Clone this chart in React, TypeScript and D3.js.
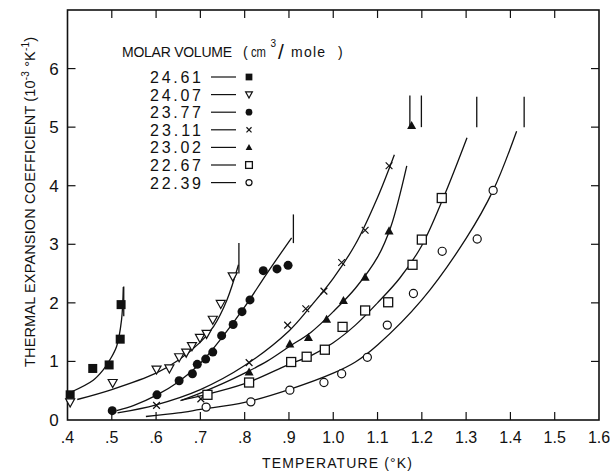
import React from "react";
import * as d3 from "d3";

// molar volumes (cm3/mole) and their plotting symbols
const volumes = ["24.61", "24.07", "23.77", "23.11", "23.02", "22.67", "22.39"];
const symbols = ["squareFilled", "triangleDown", "circleFilled", "cross", "triangleFilled", "square", "circle"];

// measured points [T (K), alpha (1e-3/K)]
const pts2461 = [[0.406, 0.43], [0.457, 0.88], [0.494, 0.94], [0.519, 1.38], [0.521, 1.97]];
const pts2407 = [[0.406, 0.3], [0.502, 0.63], [0.601, 0.86], [0.63, 0.88], [0.652, 1.07], [0.668, 1.15], [0.681, 1.26], [0.699, 1.4], [0.714, 1.47], [0.728, 1.71], [0.746, 1.98], [0.773, 2.45]];
const pts2377 = [[0.501, 0.16], [0.602, 0.43], [0.652, 0.67], [0.682, 0.79], [0.693, 0.95], [0.712, 1.04], [0.728, 1.16], [0.748, 1.44], [0.774, 1.63], [0.794, 1.85], [0.812, 2.05], [0.842, 2.55], [0.873, 2.58], [0.898, 2.64]];
const pts2311 = [[0.601, 0.25], [0.701, 0.36], [0.81, 0.98], [0.897, 1.62], [0.938, 1.9], [0.979, 2.2], [1.019, 2.69], [1.072, 3.24], [1.126, 4.34]];
const pts2302 = [[0.81, 0.82], [0.902, 1.3], [0.944, 1.41], [0.985, 1.72], [1.023, 2.04], [1.072, 2.44], [1.126, 3.23], [1.177, 5.03]];
const pts2267 = [[0.716, 0.43], [0.81, 0.64], [0.905, 0.99], [0.94, 1.08], [0.981, 1.2], [1.021, 1.59], [1.072, 1.87], [1.124, 2.01], [1.179, 2.65], [1.2, 3.08], [1.245, 3.79]];
const pts2239 = [[0.713, 0.22], [0.814, 0.31], [0.902, 0.51], [0.979, 0.64], [1.019, 0.79], [1.077, 1.07], [1.122, 1.62], [1.181, 2.16], [1.246, 2.88], [1.325, 3.09], [1.361, 3.92]];

// fitted curves
const fit2461 = [[0.406, 0.47], [0.458, 0.68], [0.481, 0.86], [0.496, 1.03], [0.511, 1.26], [0.522, 1.71], [0.526, 2.27]];
const fit2407 = [[0.422, 0.35], [0.5, 0.52], [0.6, 0.8], [0.65, 1.02], [0.7, 1.33], [0.73, 1.6], [0.76, 2.05], [0.786, 2.65]];
const fit2377 = [[0.511, 0.16], [0.55, 0.25], [0.6, 0.42], [0.65, 0.65], [0.7, 0.97], [0.75, 1.42], [0.8, 1.93], [0.85, 2.5], [0.906, 3.11]];
const fit2311 = [[0.513, 0.12], [0.6, 0.26], [0.7, 0.52], [0.8, 0.93], [0.9, 1.52], [0.95, 1.95], [1.0, 2.42], [1.05, 3.0], [1.1, 3.8], [1.138, 4.53]];
const fit2302 = [[0.655, 0.33], [0.7, 0.46], [0.75, 0.62], [0.8, 0.8], [0.85, 1.0], [0.9, 1.25], [0.95, 1.5], [1.0, 1.85], [1.05, 2.25], [1.1, 2.78], [1.13, 3.3], [1.166, 4.34]];
const fit2267 = [[0.658, 0.34], [0.7, 0.41], [0.8, 0.62], [0.9, 0.95], [0.95, 1.1], [1.0, 1.32], [1.05, 1.62], [1.1, 2.0], [1.15, 2.42], [1.2, 2.98], [1.25, 3.82], [1.302, 4.82]];
const fit2239 = [[0.577, 0.06], [0.65, 0.12], [0.7, 0.18], [0.8, 0.3], [0.9, 0.52], [1.0, 0.8], [1.05, 0.99], [1.1, 1.28], [1.2, 2.05], [1.3, 3.1], [1.361, 3.92], [1.414, 4.93]];

// transition markers: [T, alpha low, alpha high]
const transitions = [[0.527, 1.77, 2.28], [0.787, 2.5, 3.02], [0.91, 3.02, 3.51], [1.173, 5.0, 5.54], [1.199, 5.0, 5.54], [1.324, 5.0, 5.52], [1.431, 5.0, 5.52]];

const xTicks = [0.4, 0.5, 0.6, 0.7, 0.8, 0.9, 1.0, 1.1, 1.2, 1.3, 1.4, 1.5, 1.6];
const xTickLabels = [".4", ".5", ".6", ".7", ".8", ".9", "1.0", "1.1", "1.2", "1.3", "1.4", "1.5", "1.6"];
const yTicks = [0, 1, 2, 3, 4, 5, 6];
const yTickLabels = ["0", "1", "2", "3", "4", "5", "6"];

const points = [pts2461, pts2407, pts2377, pts2311, pts2302, pts2267, pts2239];
const fits = [fit2461, fit2407, fit2377, fit2311, fit2302, fit2267, fit2239];

const INK = "#111";
const FONT = "'Liberation Sans', Arial, sans-serif";

const x = d3.scaleLinear().domain([0.4, 1.6]).range([67.5, 599]);
const y = d3.scaleLinear().domain([0, 7]).range([420, 10]);

const Marker = ({ type, cx, cy, s = 1 }) => {
  const h = 4.5 * s;
  switch (type) {
    case "squareFilled":
      return <rect x={cx - h} y={cy - h} width={2 * h} height={2 * h} fill={INK} />;
    case "square":
      return <rect x={cx - h} y={cy - h} width={2 * h} height={2 * h} fill="white" stroke={INK} strokeWidth={1.3} />;
    case "circleFilled":
      return <circle cx={cx} cy={cy} r={h} fill={INK} />;
    case "circle":
      return <circle cx={cx} cy={cy} r={h * 0.9} fill="white" stroke={INK} strokeWidth={1.2} />;
    case "triangleDown":
      return <path d={`M${cx - h},${cy - h * 0.8}L${cx + h},${cy - h * 0.8}L${cx},${cy + h}Z`} fill="white" stroke={INK} strokeWidth={1.2} />;
    case "triangleFilled":
      return <path d={`M${cx - h},${cy + h * 0.8}L${cx + h},${cy + h * 0.8}L${cx},${cy - h}Z`} fill={INK} />;
    case "cross": {
      const c = h * 0.75;
      return <path d={`M${cx - c},${cy - c}L${cx + c},${cy + c}M${cx + c},${cy - c}L${cx - c},${cy + c}`} stroke={INK} strokeWidth={1.2} />;
    }
    default:
      return null;
  }
};

export default function App() {
  const line = d3
    .line()
    .x((d) => x(d[0]))
    .y((d) => y(d[1]))
    .curve(d3.curveCatmullRom.alpha(0.5));

  const x0 = x(0.4), x1 = x(1.6), yb = y(0), yt = y(7);
  const tick = 8;

  return (
    <svg width={610} height={472} style={{ position: "absolute", left: 0, top: 0, background: "white" }} fontFamily={FONT}>
      <rect width={610} height={472} fill="white" />

      {/* frame */}
      <rect x={x0} y={yt} width={x1 - x0} height={yb - yt} fill="none" stroke={INK} strokeWidth={1.6} />
      {xTicks.slice(1, -1).map((t) => (
        <g key={"xt" + t}>
          <line x1={x(t)} x2={x(t)} y1={yb} y2={yb - tick} stroke={INK} strokeWidth={1.2} />
          <line x1={x(t)} x2={x(t)} y1={yt} y2={yt + tick} stroke={INK} strokeWidth={1.2} />
        </g>
      ))}
      {yTicks.slice(1).map((t) => (
        <g key={"yt" + t}>
          <line x1={x0} x2={x0 + tick} y1={y(t)} y2={y(t)} stroke={INK} strokeWidth={1.2} />
          <line x1={x1} x2={x1 - tick} y1={y(t)} y2={y(t)} stroke={INK} strokeWidth={1.2} />
        </g>
      ))}

      {/* tick labels */}
      {xTicks.map((t, i) => (
        <text key={"xl" + t} x={x(t)} y={443} textAnchor="middle" fontSize={16} fill={INK}>
          {xTickLabels[i]}
        </text>
      ))}
      {yTicks.map((t, i) => (
        <text key={"yl" + t} x={54} y={y(t) + 6} textAnchor="middle" fontSize={17} fill={INK}>
          {yTickLabels[i]}
        </text>
      ))}

      {/* axis titles */}
      <text x={262} y={468} fontSize={14} textLength={150} lengthAdjust="spacing" fill={INK}>
        TEMPERATURE (°K)
      </text>
      <text
        transform={`translate(35,202) rotate(-90)`}
        textAnchor="middle"
        fontSize={14.5}
        textLength={330}
        lengthAdjust="spacing"
        fill={INK}
      >
        THERMAL EXPANSION COEFFICIENT (10
        <tspan dy={-6} fontSize={10}>-3</tspan>
        <tspan dy={6}> °K</tspan>
        <tspan dy={-6} fontSize={10}>-1</tspan>
        <tspan dy={6}>)</tspan>
      </text>

      {/* fitted curves */}
      {fits.map((f, i) => (
        <path key={"f" + i} d={line(f)} fill="none" stroke={INK} strokeWidth={1.3} />
      ))}

      {/* transition markers */}
      {transitions.map((t, i) => (
        <line key={"tr" + i} x1={x(t[0])} x2={x(t[0])} y1={y(t[1])} y2={y(t[2])} stroke={INK} strokeWidth={1.3} />
      ))}

      {/* data points */}
      {points.map((p, i) =>
        p.map((d, j) => <Marker key={`p${i}-${j}`} type={symbols[i]} cx={x(d[0])} cy={y(d[1])} />)
      )}

      {/* legend */}
      <g fontSize={14} fill={INK}>
        <text x={122} y={56.5} textLength={110} lengthAdjust="spacing">MOLAR VOLUME</text>
        <text x={243} y={56.5}>(</text>
        <text x={251} y={56.5} textLength={15} lengthAdjust="spacingAndGlyphs">cm</text>
        <text x={270.5} y={47} fontSize={10}>3</text>
        <text x={278} y={59} fontSize={21}>/</text>
        <text x={291} y={56.5} textLength={34} lengthAdjust="spacing">mole</text>
        <text x={338} y={56.5}>)</text>
      </g>
      {volumes.map((v, i) => {
        const ry = 77 + i * 17.6;
        return (
          <g key={"lg" + v}>
            <text x={150} y={ry + 6} fontSize={16} textLength={51} lengthAdjust="spacing" fill={INK}>
              {v}
            </text>
            <line x1={211} x2={236} y1={ry} y2={ry} stroke={INK} strokeWidth={1.2} />
            <Marker type={symbols[i]} cx={249} cy={ry} s={0.75} />
          </g>
        );
      })}
    </svg>
  );
}
